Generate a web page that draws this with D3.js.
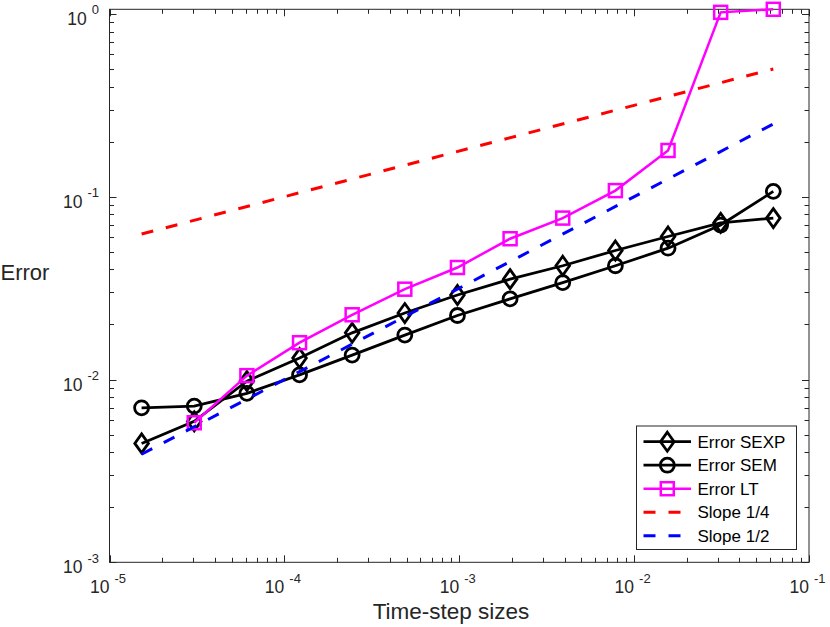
<!DOCTYPE html>
<html>
<head>
<meta charset="utf-8">
<script src="https://cdn.jsdelivr.net/npm/d3@7"></script>
<style>
  body { margin: 0; background: #fff; }
  svg { font-family: "Liberation Sans", Arial, Helvetica, sans-serif; }
</style>
</head>
<body>
<svg id="chart" width="830" height="627"></svg>
<script>
// time-step sizes (2^-16 ... 2^-4)
const steps = [1.526e-5, 3.052e-5, 6.104e-5, 1.221e-4, 2.441e-4, 4.883e-4, 9.766e-4,
               1.953e-3, 3.906e-3, 7.813e-3, 1.563e-2, 3.125e-2, 6.25e-2];
const errSEXP = [4.47e-3, 5.9e-3, 9.8e-3, 1.31e-2, 1.80e-2, 2.31e-2, 2.90e-2,
                 3.54e-2, 4.19e-2, 5.08e-2, 6.06e-2, 7.2e-2, 7.64e-2];
const errSEM = [7.0e-3, 7.15e-3, 8.4e-3, 1.06e-2, 1.36e-2, 1.75e-2, 2.24e-2,
                2.76e-2, 3.39e-2, 4.19e-2, 5.23e-2, 7.0e-2, 0.107];
// LT starts at the second step size
const stepsLT = steps.slice(1);
const errLT = [5.8e-3, 1.05e-2, 1.59e-2, 2.26e-2, 3.12e-2, 4.10e-2, 5.89e-2,
               7.64e-2, 0.108, 0.179, 1.02, 1.06];
// reference slopes, end points only
const slopeX = [1.526e-5, 6.25e-2];
const slopeQuarter = [0.0625, 0.5];
const slopeHalf = [0.0039, 0.25];

const xTicks = [1e-5, 1e-4, 1e-3, 1e-2, 1e-1];
const xTickLabels = ["-5", "-4", "-3", "-2", "-1"];
const yTicks = [1e-3, 1e-2, 1e-1, 1e0];
const yTickLabels = ["-3", "-2", "-1", "0"];

const axisColor = "#262626";
const plotL = 109.5, plotR = 809, plotT = 9.3, plotB = 562.3;

const svg = d3.select("#chart");

let x = d3.scaleLog().domain([1e-5, 1e-1]).range([plotL, plotR]);
let y = d3.scaleLog().domain([1e-3, 1.06]).range([plotB, plotT]);

// box
svg.append("rect")
    .attr("x", plotL).attr("y", plotT)
    .attr("width", plotR - plotL).attr("height", plotB - plotT)
    .attr("fill", "none")
    .attr("stroke", axisColor)
    .attr("stroke-width", 1);

// minor + major ticks, pointing inward on all sides
function logTicks(lo, hi) {
    let out = [];
    for (let e = Math.floor(Math.log10(lo)); e <= Math.ceil(Math.log10(hi)); e++) {
        for (let m = 1; m <= 9; m++) {
            let v = m * Math.pow(10, e);
            if (v >= lo * 0.999 && v <= hi * 1.001) out.push({ v: v, major: m == 1 });
        }
    }
    return out;
}

let tickg = svg.append("g")
    .attr("stroke", axisColor)
    .attr("stroke-width", 1);

logTicks(1e-5, 1e-1).forEach(function (t) {
    let len = t.major ? 7 : 4.5;
    let px = Math.round(x(t.v)) + 0.5;
    tickg.append("line").attr("x1", px).attr("x2", px).attr("y1", plotB).attr("y2", plotB - len);
    tickg.append("line").attr("x1", px).attr("x2", px).attr("y1", plotT).attr("y2", plotT + len);
});

logTicks(1e-3, 1.06).forEach(function (t) {
    let len = t.major ? 7 : 4.5;
    let py = Math.round(y(t.v)) + 0.5;
    tickg.append("line").attr("y1", py).attr("y2", py).attr("x1", plotL).attr("x2", plotL + len);
    tickg.append("line").attr("y1", py).attr("y2", py).attr("x1", plotR).attr("x2", plotR - len);
});

// tick labels as 10^n
function powerLabel(sel, exp) {
    sel.append("tspan").attr("font-size", 17.5).text("10");
    sel.append("tspan").attr("font-size", 13).attr("dx", 5).attr("dy", -10.5).text(exp);
}

xTicks.forEach(function (v, i) {
    let t = svg.append("text")
        .attr("x", x(v) - 1.5)
        .attr("y", 593.3)
        .attr("text-anchor", "middle")
        .attr("fill", axisColor);
    powerLabel(t, xTickLabels[i]);
});

yTicks.forEach(function (v, i) {
    let t = svg.append("text")
        .attr("x", 99)
        .attr("y", y(v) + 11)
        .attr("text-anchor", "end")
        .attr("fill", axisColor);
    powerLabel(t, yTickLabels[i]);
});

// axis labels
svg.append("text")
    .attr("x", 451)
    .attr("y", 619)
    .attr("text-anchor", "middle")
    .attr("font-size", 22.5)
    .attr("fill", axisColor)
    .text("Time-step sizes");

svg.append("text")
    .attr("x", 0.5)
    .attr("y", 279.5)
    .attr("font-size", 22)
    .attr("fill", axisColor)
    .text("Error");

// marker shapes
function drawMarker(g, kind, cx, cy, color) {
    if (kind == "diamond") {
        g.append("path")
            .attr("d", "M" + cx + "," + (cy - 9.5) + "L" + (cx + 6.8) + "," + cy +
                       "L" + cx + "," + (cy + 9.5) + "L" + (cx - 6.8) + "," + cy + "Z")
            .attr("fill", "none").attr("stroke", color).attr("stroke-width", 2.8);
    } else if (kind == "circle") {
        g.append("circle")
            .attr("cx", cx).attr("cy", cy).attr("r", 7)
            .attr("fill", "none").attr("stroke", color).attr("stroke-width", 2.8);
    } else if (kind == "square") {
        g.append("rect")
            .attr("x", cx - 6.5).attr("y", cy - 6.5)
            .attr("width", 13).attr("height", 13)
            .attr("fill", "none").attr("stroke", color).attr("stroke-width", 2.5);
    }
}

const series = [
    { name: "Error SEXP", xs: steps, ys: errSEXP, color: "#000000", width: 2.8, marker: "diamond", dash: null },
    { name: "Error SEM", xs: steps, ys: errSEM, color: "#000000", width: 2.8, marker: "circle", dash: null },
    { name: "Error LT", xs: stepsLT, ys: errLT, color: "#ff00ff", width: 2.5, marker: "square", dash: null },
    { name: "Slope 1/4", xs: slopeX, ys: slopeQuarter, color: "#ff0000", width: 3, marker: null, dash: "12,13" },
    { name: "Slope 1/2", xs: slopeX, ys: slopeHalf, color: "#0000ff", width: 3, marker: null, dash: "12,13" }
];

let line = d3.line()
    .x(d => x(d[0]))
    .y(d => y(d[1]));

series.forEach(function (s) {
    let g = svg.append("g");
    let pts = s.xs.map((v, i) => [v, s.ys[i]]);
    g.append("path")
        .attr("d", line(pts))
        .attr("fill", "none")
        .attr("stroke", s.color)
        .attr("stroke-width", s.width)
        .attr("stroke-dasharray", s.dash);
    if (s.marker) {
        pts.forEach(function (p) {
            drawMarker(g, s.marker, x(p[0]), y(p[1]), s.color);
        });
    }
});

// legend
let lg = svg.append("g");
lg.append("rect")
    .attr("x", 636.5).attr("y", 426)
    .attr("width", 160).attr("height", 123.5)
    .attr("fill", "#ffffff")
    .attr("stroke", axisColor)
    .attr("stroke-width", 1);

series.forEach(function (s, i) {
    let cy = 441.7 + i * 23.5;
    lg.append("line")
        .attr("x1", 643.5).attr("x2", 691)
        .attr("y1", cy).attr("y2", cy)
        .attr("stroke", s.color)
        .attr("stroke-width", s.width)
        .attr("stroke-dasharray", s.dash);
    if (s.marker) drawMarker(lg, s.marker, 667.3, cy, s.color);
    lg.append("text")
        .attr("x", 697.5)
        .attr("y", cy + 6)
        .attr("font-size", 17)
        .attr("fill", "#000")
        .text(s.name);
});
</script>
</body>
</html>
